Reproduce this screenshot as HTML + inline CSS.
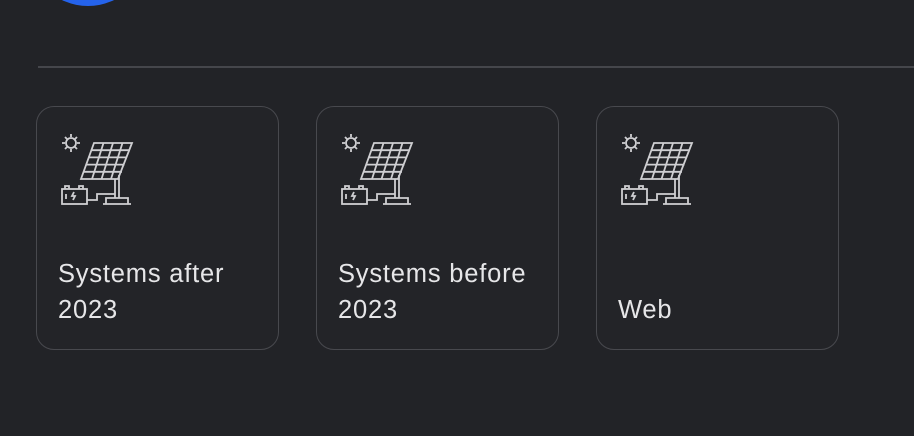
<!DOCTYPE html>
<html><head><style>
body{margin:0;width:914px;height:436px;background:#222327;overflow:hidden;position:relative;font-family:"Liberation Sans",Roboto,sans-serif}
.circ{position:absolute;left:28px;top:-114px;width:120px;height:120px;border-radius:50%;background:#2563eb}
.line{position:absolute;left:38px;right:0;top:66px;height:2px;background:#45464b}
.card{position:absolute;top:106px;width:243px;height:244px;border:1.5px solid #48494e;border-radius:18px;background:#232428;box-sizing:border-box}
.card svg{position:absolute;left:0;top:0}
.t{position:absolute;left:21px;top:149px;color:#e6e6e8;font-size:25.5px;letter-spacing:0.8px;line-height:36px}
</style></head><body>
<div class="circ"></div><div class="line"></div>
<svg width="0" height="0" style="position:absolute"><defs><g id="ic" fill="none" stroke="#cfcfd2" stroke-width="1.8">
<circle cx="34" cy="36" r="5"/>
<path d="M34 27v3M34 42v3M25 36h3M40 36h3M28 30l2 2M38 40l2 2M28 42l2-2M38 32l2-2"/>
<path d="M57 36h38l-14 36h-37z"/>
<path d="M54 43.2h39M51 50.4h39M48.5 57.6h39M46 64.8h39"/>
<path d="M66.5 36l-11.5 36M76 36l-11.5 36M85.5 36l-11.5 36"/>
<path d="M78 72v19M82 68v23M69 91h22v6h-22z M66 97h28"/>
<rect x="25" y="82" width="25" height="15"/>
<path d="M28 82v-3h4v3M42 82v-3h4v3M29 87v5M37 85l-2 4h3l-2 4"/>
<path d="M50 93h10v-6h18"/>
</g></defs></svg>
<div class="card" style="left:36px"><svg width="240" height="240"><use href="#ic"/></svg><div class="t">Systems after<br>2023</div></div>
<div class="card" style="left:316px"><svg width="240" height="240"><use href="#ic"/></svg><div class="t">Systems before<br>2023</div></div>
<div class="card" style="left:596px"><svg width="240" height="240"><use href="#ic"/></svg><div class="t" style="top:185px">Web</div></div>
</body></html>
